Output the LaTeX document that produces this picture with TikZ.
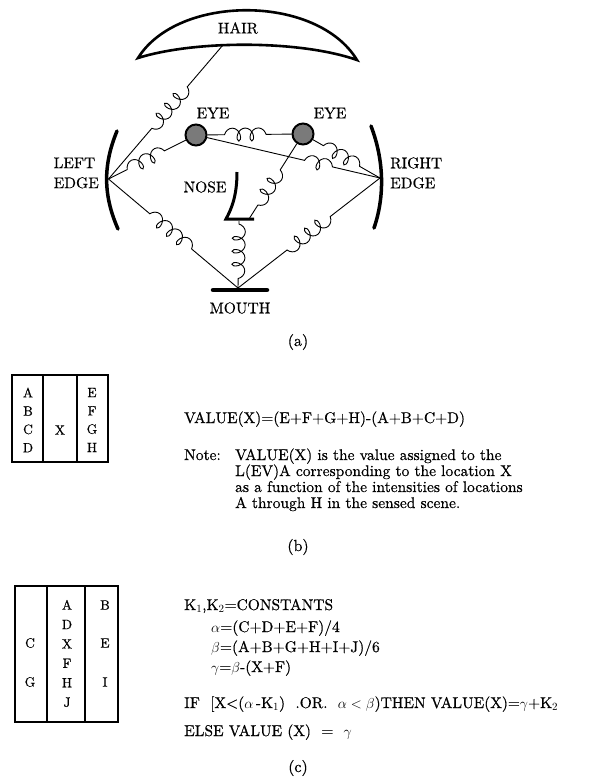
\documentclass[tikz,border=0pt]{standalone}
\usepackage{amsmath,amssymb}
\usepackage{fontspec}
\setmainfont{lmroman10-regular.otf}[FakeBold=0.5]
\usetikzlibrary{decorations.pathmorphing}

\newcommand{\txtfont}{\fontsize{15.5}{20}\selectfont}
\newcommand{\cellfont}{\fontsize{13.5}{18.3}\selectfont}
\newcommand{\capfont}{\fontsize{16}{18}\selectfont}

\begin{document}
\begin{tikzpicture}[x=1pt,y=-1pt,
  wire/.style={line width=0.9pt},
  spring/.style 2 args={decorate,decoration={coil,amplitude=6.5pt,aspect=0.7,segment length=13pt,pre length=#1,post length=#2}},
  eye/.style={circle,draw,line width=2pt,fill=black!52,minimum size=21pt,inner sep=0pt},
  lbl/.style={font=\txtfont,inner sep=0pt},
  txt/.style={font=\txtfont,inner sep=0pt,anchor=base west},
  cell/.style={font=\cellfont,inner sep=0pt,align=center},
  heavy/.style={line width=#1,line cap=round}]
  \useasboundingbox (0,0) rectangle (596,782);

  \draw[line width=2.6pt,fill=white] (138,58) .. controls (178,-6) and (317,-6) .. (357,60)
    .. controls (300,40) and (195,40) .. (138,58) -- cycle;
  \node[lbl] (hair) at (238,28) {HAIR};
  \coordinate (hairpt) at (223,45);

  \draw[heavy=3.5pt] (117,131) .. controls (103,165) and (103,195) .. (118,229);
  \draw[heavy=3.5pt] (371,126) .. controls (384,160) and (385,196) .. (374,228);
  \coordinate (ledge) at (108.5,179);
  \coordinate (redge) at (380,178);
  \node[lbl,align=left,anchor=east] (leftlbl) at (99,173) {LEFT\\EDGE};
  \node[lbl,align=left,anchor=west] (rightlbl) at (390,173) {RIGHT\\EDGE};

  \node[eye] (leye) at (196,135) {};
  \node[eye] (reye) at (303,134) {};
  \node[lbl] (leyelbl) at (213,113) {EYE};
  \node[lbl] (reyelbl) at (330,113) {EYE};

  \draw[line width=3pt,line join=miter] (237,172) .. controls (237,195) and (232,208) .. (226,219) -- (254,219);
  \node[lbl] (noselbl) at (205,187) {NOSE};
  \coordinate (nosefoot) at (249,219);
  \coordinate (nosebase) at (239,221);

  \draw[heavy=4.5pt] (213,290) -- (267,290);
  \coordinate (mouth) at (238,288);
  \node[lbl] (mouthlbl) at (240,308) {MOUTH};

  \path[wire]
    (hairpt) edge[spring={55pt}{66pt}] (ledge)
    (ledge) edge[spring={21pt}{15pt}] (leye)
    (leye) edge[spring={17pt}{18pt}] (reye)
    (reye) edge[spring={12pt}{22pt}] (redge)
    (leye) edge[spring={100pt}{39pt}] (redge)
    (reye) edge[spring={31pt}{5pt}] (nosefoot)
    (nosebase) edge[spring={3pt}{9pt}] (mouth)
    (ledge) edge[spring={54pt}{59pt}] (mouth)
    (redge) edge[spring={63pt}{62pt}] (mouth);

  \node[font=\capfont] (capa) at (298,342) {(a)};

  \draw[line width=2.2pt] (12,375) rectangle (108,462);
  \draw[line width=1.8pt] (43,375) -- (43,462) (77,375) -- (77,462);
  \node[cell] (colabcd) at (28,420) {A\\B\\C\\D};
  \node[cell] (colx) at (60,430) {X};
  \node[cell] (colefgh) at (92,420) {E\\F\\G\\H};

  \node[txt] (value) at (184,423) {VALUE(X)=(E+F+G+H)-(A+B+C+D)};
  \node[txt] (notehead) at (184,460) {Note:};
  \node[txt] (note1) at (235,460) {VALUE(X) is the value assigned to the};
  \node[txt] (note2) at (235,476) {L(EV)A corresponding to the location X};
  \node[txt] (note3) at (235,492) {as a function of the intensities of locations};
  \node[txt] (note4) at (235,508) {A through H in the sensed scene.};

  \node[font=\capfont] (capb) at (298,547) {(b)};

  \draw[line width=2.2pt] (15,586) rectangle (118,722);
  \draw[line width=1.8pt] (47,586) -- (47,722) (85,586) -- (85,722);
  \node[cell] (colc) at (30,643) {C};
  \node[cell] (colg) at (30,682) {G};
  \node[cell,font=\fontsize{13.5}{19.4}\selectfont] (colmid) at (67,653.5) {A\\D\\X\\F\\H\\J};
  \node[cell] (colb) at (105,605) {B};
  \node[cell] (cole) at (105,643) {E};
  \node[cell] (coli) at (105,682) {I};

  \node[txt] (consts) at (184,610) {K$_1$,K$_2$=CONSTANTS};
  \node[txt] (alpha) at (211,632) {$\alpha$=(C+D+E+F)/4};
  \node[txt] (beta) at (211,652) {$\beta$=(A+B+G+H+I+J)/6};
  \node[txt] (gamma) at (211,672) {$\gamma$=$\beta$-(X+F)};
  \node[txt] (ifline) at (184,708) {IF\ \ [X<($\alpha$\,-K$_1$)\ \ .OR.\ \ $\alpha<\beta$)THEN VALUE(X)=$\gamma$+K$_2$};
  \node[txt] (elseline) at (184,736) {ELSE VALUE (X)\ \ =\ \ $\gamma$};

  \node[font=\capfont] (capc) at (298,768) {(c)};
\end{tikzpicture}
\end{document}
